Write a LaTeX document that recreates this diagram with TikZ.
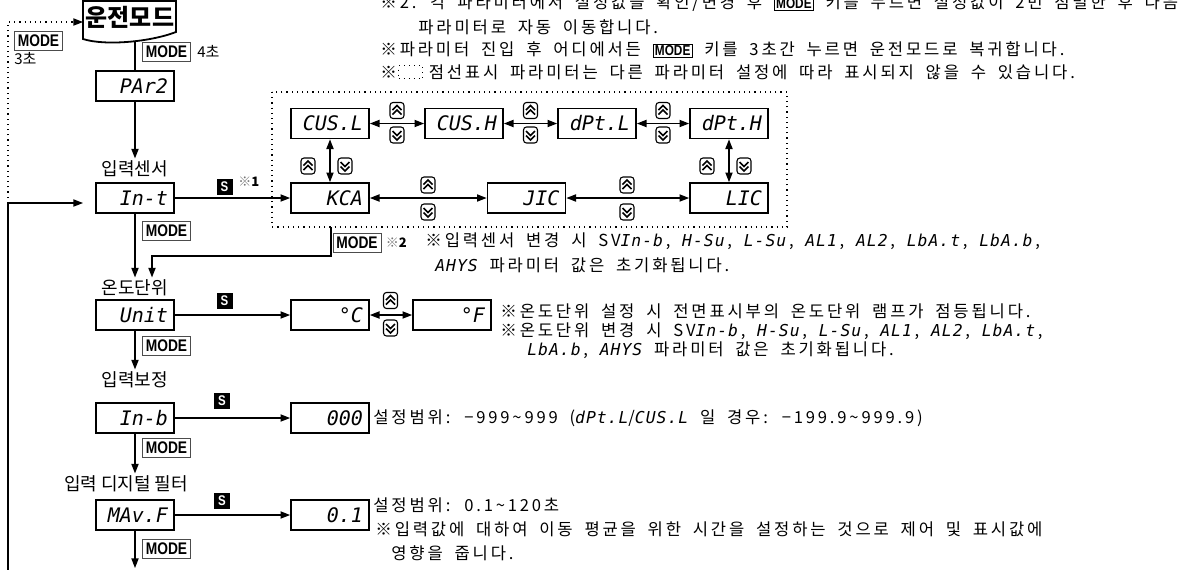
\documentclass[tikz,border=0pt]{standalone}
\usepackage{fontspec}
\setmainfont{Noto Sans CJK KR}
\newfontfamily\notefont[LetterSpace=17,WordSpace=1.8]{Noto Sans CJK KR}
\newfontfamily\segfont{DejaVu Sans Mono}
\newfontfamily\segnote[LetterSpace=6]{DejaVu Sans Mono}
\newfontfamily\keyfont[FakeStretch=0.82]{Liberation Sans}
\usetikzlibrary{positioning,arrows.meta}

\newcommand{\segtxt}[1]{{\segnote\itshape\fontsize{8.2}{8.2}\selectfont #1}}
\newcommand{\modetxt}{{\setlength{\fboxsep}{0.6pt}\setlength{\fboxrule}{0.5pt}\fbox{\keyfont\bfseries\fontsize{7.2}{7.2}\selectfont MODE}}}

\begin{document}
\begin{tikzpicture}[x=0.5pt,y=-0.5pt,
		disp/.style={draw,line width=0.9pt,minimum width=39pt,minimum height=15pt,inner xsep=3pt,inner ysep=0pt,text width=33pt,align=right,font=\segfont\itshape\fontsize{10}{10}\selectfont},
		lbl/.style={inner sep=1pt,font=\fontsize{9}{9}\selectfont},
		note/.style={anchor=west,inner sep=0pt,font=\notefont\fontsize{8.3}{9}\selectfont},
		small/.style={anchor=west,inner sep=0pt,font=\fontsize{7.5}{9}\selectfont},
		modekey/.style={draw=black!70,line width=0.5pt,minimum width=24pt,minimum height=9.5pt,inner sep=0pt,font=\keyfont\bfseries\fontsize{8.4}{8.4}\selectfont},
		skey/.style={fill=black,text=white,minimum size=8pt,inner sep=0pt,font=\keyfont\bfseries\fontsize{7}{7}\selectfont},
		refnote/.style={anchor=west,inner sep=0pt,font=\bfseries\fontsize{6.5}{6.5}\selectfont},
		arr/.style={-{Triangle[length=4.8pt,width=3.6pt]},line width=0.6pt},
		darr/.style={{Triangle[length=4.8pt,width=3.6pt]}-{Triangle[length=4.8pt,width=3.6pt]},line width=0.6pt},
		upkey/.pic={
			\draw[line width=0.55pt,rounded corners=1.5pt] (-7,-8) rectangle (7,8);
			\draw[line width=0.8pt] (-4.5,-0.5) -- (0,-5) -- (4.5,-0.5) (-4.5,4) -- (0,-0.5) -- (4.5,4);
		},
		downkey/.pic={
			\draw[line width=0.55pt,rounded corners=1.5pt] (-7,-8) rectangle (7,8);
			\draw[line width=0.8pt] (-4.5,0.5) -- (0,5) -- (4.5,0.5) (-4.5,-4) -- (0,0.5) -- (4.5,-4);
		}
		]
		\useasboundingbox (0,0) rectangle (1180,569);
		
		% notes on top
		\node[note] (n1) at (380,3) {※2. 각 파라미터에서 설정값을 확인/변경 후 \modetxt{} 키를 누르면 설정값이 2번 점멸한 후 다음};
		\node[note] (n2) at (418,27) {파라미터로 자동 이동합니다.};
		\node[note] (n3) at (380,50) {※파라미터 진입 후 어디에서든 \modetxt{} 키를 3초간 누르면 운전모드로 복귀합니다.};
		\node[note] (n4) at (380,72) {※};
		\node[draw,dotted,line width=0.5pt,minimum width=12pt,minimum height=6.5pt,inner sep=0pt,right=0.5pt of n4] (n4box) {};
		\node[note,right=2.5pt of n4box] (n4txt) {점선표시 파라미터는 다른 파라미터 설정에 따라 표시되지 않을 수 있습니다.};
		
		% run mode
		\draw[line width=0.9pt] (83,1) -- (176,1) -- (176,32) .. controls (150,42) and (105,46) .. (83,39) -- cycle;
		\node[font=\bfseries\fontsize{12}{12}\selectfont,inner sep=0pt] (run) at (130,17) {운전모드};
		\coordinate (runin) at (83,22);
		\coordinate (runout) at (135,41);
		
		% left column
		\node[disp] (par) at (135,86) {PAr2};
		\node[lbl] (lsen) at (135,169) {입력센서};
		\node[disp] (int) at (135,198) {In-t};
		\node[lbl] (lunit) at (135,288) {온도단위};
		\node[disp] (unit) at (135,315) {Unit};
		\node[lbl] (lcomp) at (135,380) {입력보정};
		\node[disp] (inb) at (135,418) {In-b};
		\node[lbl] (lfilt) at (126,484) {입력 디지털 필터};
		\node[disp] (mavf) at (135,515) {MAv.F};
		\coordinate (downend) at (135,568);
		
		% sensor group
		\draw[dotted,line width=0.6pt] (272,92) rectangle (787,227);
		\coordinate (dotbot) at (331,227);
		\node[disp] (cusl) at (330,123.5) {CUS.L};
		\node[disp] (cush) at (464,123.5) {CUS.H};
		\node[disp] (dptl) at (597,123.5) {dPt.L};
		\node[disp] (dpth) at (729,123.5) {dPt.H};
		\node[disp] (kca) at (330,198) {KCA};
		\node[disp] (jic) at (526.5,198) {JIC};
		\node[disp] (lic) at (729,198) {LIC};
		
		% set values
		\node[disp] (degc) at (330,315) {°C};
		\node[disp] (degf) at (452,315) {°F};
		\node[disp] (zero) at (330,418) {000};
		\node[disp] (ptone) at (330,515) {0.1};
		
		% keys
		\node[modekey] (m0) at (38.5,41) {MODE};
		\node[small] (m0t) at (14,59) {3초};
		\node[modekey] (m1) at (166.5,51.5) {MODE};
		\node[small,right=3pt of m1] (m1t) {4초};
		\node[modekey] (m2) at (166.5,231) {MODE};
		\node[modekey] (m3) at (166.5,346) {MODE};
		\node[modekey] (m4) at (166.5,447.5) {MODE};
		\node[modekey] (m5) at (166.5,549) {MODE};
		\node[modekey] (m6) at (357,242.5) {MODE};
		\node[refnote,right=2pt of m6] (r2) {\textcolor{black!55}{※}2};
		\node[skey] (s1) at (224.5,187) {S};
		\node[refnote] (r1) at (238,182) {\textcolor{black!55}{※}1};
		\node[skey] (s2) at (224.5,300.5) {S};
		\node[skey] (s3) at (222,401) {S};
		\node[skey] (s4) at (222,501) {S};
		
		% loop back
		\coordinate (loopbot) at (8,575);
		\coordinate (loopturn) at (8,203);
		\coordinate (loopin) at (83,203);
		\draw[arr,dotted] (loopturn) |- (runin);
		\draw[arr] (loopbot) |- (loopin);
		
		% main flow
		\draw[line width=0.6pt] (runout) -- (par);
		\draw[arr] (par) -- (lsen);
		\draw[arr] (int) -- (kca);
		\draw[arr] (int) -- (lunit);
		\draw[arr] (dotbot) -- ++(0,29) -| ([xshift=8.5pt]lunit.north);
		\draw[arr] (unit) -- (degc);
		\draw[darr] (degc) -- (degf);
		\draw[arr] (unit) -- (lcomp);
		\draw[arr] (inb) -- (zero);
		\draw[arr] (inb.south) -- (inb.south |- lfilt.north);
		\draw[arr] (mavf) -- (ptone);
		\draw[arr] (mavf) -- (downend);
		
		% sensor steps
		\draw[darr] (cusl) -- (cush);
		\draw[darr] (cush) -- (dptl);
		\draw[darr] (dptl) -- (dpth);
		\draw[darr] (cusl) -- (kca);
		\draw[darr] (dpth) -- (lic);
		\draw[darr] (kca) -- (jic);
		\draw[darr] (jic) -- (lic);
		\pic at (397,110.5) {upkey};
		\pic at (397,135) {downkey};
		\pic at (530.5,110.5) {upkey};
		\pic at (530.5,135) {downkey};
		\pic at (663,110.5) {upkey};
		\pic at (663,135) {downkey};
		\pic at (308,166) {upkey};
		\pic at (345,166) {downkey};
		\pic at (707,166) {upkey};
		\pic at (744,166) {downkey};
		\pic at (428,185) {upkey};
		\pic at (428,212) {downkey};
		\pic at (627,185) {upkey};
		\pic at (627,212) {downkey};
		\pic at (390.5,300.5) {upkey};
		\pic at (390.5,328) {downkey};
		
		% side notes
		\node[note] (n5) at (425,241) {※입력센서 변경 시 SV\segtxt{In-b}\,, \segtxt{H-Su}\,, \segtxt{L-Su}\,, \segtxt{AL1}\,, \segtxt{AL2}\,, \segtxt{LbA.t}\,, \segtxt{LbA.b}\,,};
		\node[note] (n6) at (435,265) {\segtxt{AHYS} 파라미터 값은 초기화됩니다.};
		\node[note] (n7) at (500,311) {※온도단위 설정 시 전면표시부의 온도단위 램프가 점등됩니다.};
		\node[note] (n8) at (500,331) {※온도단위 변경 시 SV\segtxt{In-b}\,, \segtxt{H-Su}\,, \segtxt{L-Su}\,, \segtxt{AL1}\,, \segtxt{AL2}\,, \segtxt{LbA.t}\,,};
		\node[note] (n9) at (527,350) {\segtxt{LbA.b}\,, \segtxt{AHYS} 파라미터 값은 초기화됩니다.};
		\node[note] (n10) at (373,418) {설정범위: −999\textasciitilde999 (\segtxt{dPt.L}/\segtxt{CUS.L} 일 경우: −199.9\textasciitilde999.9)};
		\node[note] (n11) at (373,505) {설정범위: 0.1\textasciitilde120초};
		\node[note] (n12) at (375,529) {※입력값에 대하여 이동 평균을 위한 시간을 설정하는 것으로 제어 및 표시값에};
		\node[note] (n13) at (391,553) {영향을 줍니다.};
	\end{tikzpicture}
\end{document}
